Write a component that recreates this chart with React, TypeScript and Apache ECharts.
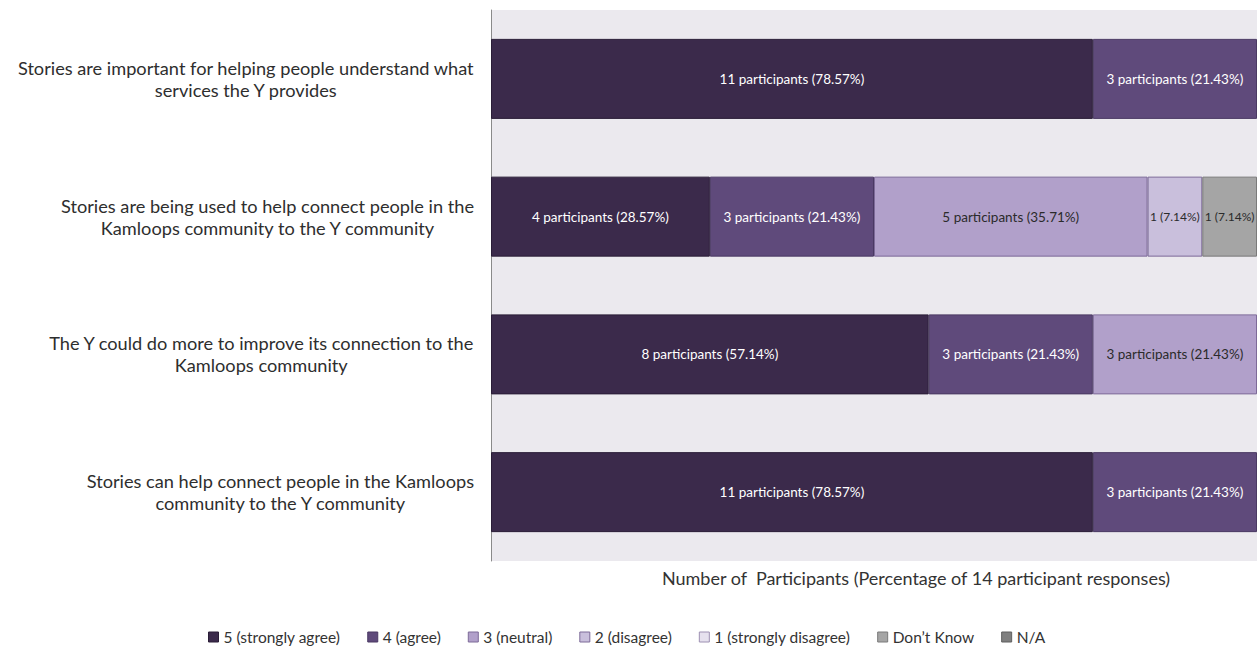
import React, { useEffect, useRef } from "react";
import * as echarts from "echarts";

const categories = [
  "Stories are important for helping people understand what\nservices the Y provides",
  "Stories are being used to help connect people in the\nKamloops community to the Y community",
  "The Y could do more to improve its connection to the\nKamloops community",
  "Stories can help connect people in the Kamloops\ncommunity to the Y community",
];

const seriesNames = [
  "5 (strongly agree)",
  "4 (agree)",
  "3 (neutral)",
  "2 (disagree)",
  "1 (strongly disagree)",
  "Don\u2019t Know",
  "N/A",
];

const strongAgree = [11, 4, 8, 11];
const agree = [3, 3, 3, 3];
const neutral = [null, 5, 3, null];
const disagree = [null, 1, null, null];
const strongDisagree = [null, null, null, null];
const dontKnow = [null, 1, null, null];
const notApplicable = [null, null, null, null];

const totalResponses = 14;
const axisTitle = "Number of  Participants (Percentage of 14 participant responses)";

const seriesValues = [strongAgree, agree, neutral, disagree, strongDisagree, dontKnow, notApplicable];
const colors = ["#3b2a4b", "#5f4a7b", "#b1a0ca", "#c9bfdc", "#e6e1ee", "#a5a5a5", "#7f7f7f"];
const borders = ["#2a1d37", "#4a3963", "#7d6a98", "#7d6a98", "#9d90b2", "#7a7a7a", "#5f5f5f"];
const labelColors = ["#ffffff", "#ffffff", "#2b2b2b", "#2b2b2b", "#2b2b2b", "#2b2b2b", "#ffffff"];

const FONT = "Lato, 'Open Sans', sans-serif";

export default function App() {
  const ref = useRef<HTMLDivElement>(null);
  useEffect(() => {
    document.body.style.margin = "0";
    const chart = echarts.init(ref.current!, null, { renderer: "svg" });
    chart.setOption({
      animation: false,
      textStyle: { fontFamily: FONT },
      grid: {
        left: 491,
        right: 0,
        top: 10,
        bottom: 95,
        show: true,
        borderWidth: 0,
        backgroundColor: "#ebe9ee",
      },
      legend: {
        bottom: 6,
        left: 203,
        itemWidth: 10,
        itemHeight: 10,
        itemGap: 27,
        icon: "rect",
        textStyle: { fontFamily: FONT, fontSize: 15.5, color: "#333" },
        data: seriesNames.map((n, i) => ({
          name: n,
          itemStyle: { color: colors[i], borderColor: borders[i], borderWidth: 1 },
        })),
      },
      xAxis: {
        type: "value",
        min: 0,
        max: totalResponses,
        axisLine: { show: false },
        axisTick: { show: false },
        axisLabel: { show: false },
        splitLine: { show: false },
        name: axisTitle,
        nameLocation: "middle",
        nameGap: 8,
        nameTextStyle: {
          fontFamily: FONT,
          fontSize: 18,
          color: "#333",
          padding: [0, 0, 0, 84],
        },
      },
      yAxis: {
        type: "category",
        inverse: true,
        data: categories,
        axisLine: { show: true, lineStyle: { color: "#8a8a8a", width: 1 } },
        axisTick: { show: false },
        axisLabel: {
          margin: 17,
          formatter: (v: string) =>
            v
              .split("\n")
              .map((l) => `{c|${l}}`)
              .join("\n"),
          rich: {
            c: {
              align: "center",
              fontFamily: FONT,
              fontSize: 18.2,
              lineHeight: 22,
              color: "#2e2e2e",
            },
          },
        },
      },
      series: seriesNames.map((name, i) => ({
        name,
        type: "bar",
        stack: "total",
        barWidth: 80,
        data: seriesValues[i],
        itemStyle: { color: colors[i], borderColor: borders[i], borderWidth: 1 },
        label: {
          show: true,
          position: "inside",
          fontFamily: FONT,
          fontSize: 13.5,
          color: labelColors[i],
          formatter: (p: any) => {
            const v = p.value as number;
            const pct = ((v / totalResponses) * 100).toFixed(2);
            return v === 1 ? `{s|${v} (${pct}%)}` : `${v} participants (${pct}%)`;
          },
          rich: {
            s: { fontFamily: FONT, fontSize: 12, color: labelColors[i] },
          },
        },
      })),
    });
    return () => chart.dispose();
  }, []);
  return <div ref={ref} style={{ width: 1257, height: 656 }} />;
}
